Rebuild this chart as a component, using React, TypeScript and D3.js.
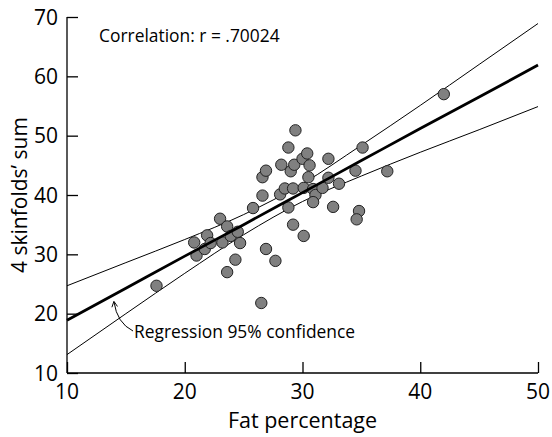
import { useEffect, useRef } from 'react';
import * as d3 from 'd3';

// fat % vs sum of 4 skinfolds, one value per subject
const fatPct = [
  17.6, 20.8, 21.0, 21.7, 21.9, 22.2, 23.0, 23.2, 23.6, 23.6, 23.9, 24.3, 24.5,
  24.7, 25.8, 26.5, 26.6, 26.6, 26.9, 26.9, 27.7, 28.2, 28.1, 28.5, 28.8, 29.4,
  28.8, 29.0, 29.3, 29.2, 29.2, 30.0, 30.1, 30.1, 30.4, 30.5, 30.6, 30.9, 31.1,
  30.9, 31.7, 32.2, 32.2, 32.6, 33.1, 34.5, 35.1, 34.8, 34.6, 37.2, 42.0,
];
const skinfoldSum = [
  24.7, 32.0, 29.8, 30.9, 33.2, 31.9, 36.0, 32.0, 27.0, 34.7, 33.1, 29.1, 33.8,
  31.9, 37.8, 21.8, 39.9, 43.0, 44.1, 30.9, 28.9, 45.1, 40.1, 41.1, 48.0, 50.9,
  37.9, 44.0, 45.1, 41.1, 35.0, 46.1, 33.1, 41.2, 47.0, 43.0, 45.0, 41.0, 40.0,
  38.8, 41.2, 46.1, 42.9, 38.0, 41.9, 44.1, 48.0, 37.3, 35.9, 44.0, 57.0,
];

// fitted line and its 95% band, read at a few x positions
const bandX = [10, 15, 20, 25, 30, 35, 40, 45, 50];
const regressionY = [18.9, 24.3, 29.7, 35.0, 40.4, 45.8, 51.2, 56.5, 61.9];
const upperBand = [24.7, 28.6, 32.5, 36.7, 41.9, 48.4, 55.1, 62.0, 68.9];
const lowerBand = [13.1, 20.0, 26.8, 33.3, 38.9, 43.2, 47.2, 51.0, 54.9];

const xTicks = [10, 20, 30, 40, 50];
const yTicks = [10, 20, 30, 40, 50, 60, 70];

const W = 552;
const H = 437;
const FONT = '"Open Sans", Lato, sans-serif';

export default function App() {
  const ref = useRef<SVGSVGElement>(null);

  useEffect(() => {
    document.body.style.margin = '0';
    const svg = d3.select(ref.current);
    svg.selectAll('*').remove();

    const x = d3.scaleLinear().domain([10, 50]).range([67, 538]);
    const y = d3.scaleLinear().domain([10, 70]).range([373, 17]);

    // axes, ticks point inward
    const xAxis = svg
      .append('g')
      .attr('transform', `translate(0,${y(10)})`)
      .call(d3.axisTop(x).tickValues(xTicks).tickSize(11).tickFormat(() => ''));
    xAxis.select('.domain').attr('d', `M${x(10)},0H${x(50)}`);
    const yAxis = svg
      .append('g')
      .attr('transform', `translate(${x(10)},0)`)
      .call(d3.axisRight(y).tickValues(yTicks).tickSize(11).tickFormat(() => ''));
    yAxis.select('.domain').attr('d', `M0,${y(10)}V${y(70)}`);
    svg.selectAll('.domain, .tick line').attr('stroke', '#000').attr('stroke-width', 1.3);

    svg
      .append('g')
      .selectAll('text')
      .data(xTicks)
      .join('text')
      .attr('x', (d) => x(d))
      .attr('y', 399)
      .attr('text-anchor', 'middle')
      .attr('font-family', FONT)
      .attr('font-size', 21)
      .text((d) => d);

    svg
      .append('g')
      .selectAll('text')
      .data(yTicks)
      .join('text')
      .attr('x', 58)
      .attr('y', (d) => y(d) + 7.5)
      .attr('text-anchor', 'end')
      .attr('font-family', FONT)
      .attr('font-size', 21)
      .text((d) => d);

    svg
      .append('text')
      .attr('x', (x(10) + x(50)) / 2)
      .attr('y', 428)
      .attr('text-anchor', 'middle')
      .attr('font-family', FONT)
      .attr('font-size', 21.5)
      .text('Fat percentage');

    svg
      .append('text')
      .attr('transform', `translate(27,${(y(10) + y(70)) / 2}) rotate(-90)`)
      .attr('text-anchor', 'middle')
      .attr('font-family', FONT)
      .attr('font-size', 21)
      .text('4 skinfolds\u2019 sum');

    const line = d3
      .line<number>()
      .x((_, i) => x(bandX[i]))
      .curve(d3.curveMonotoneX);

    svg
      .append('path')
      .attr('d', line.y((d) => y(d))(upperBand))
      .attr('fill', 'none')
      .attr('stroke', '#000')
      .attr('stroke-width', 1);
    svg
      .append('path')
      .attr('d', line.y((d) => y(d))(lowerBand))
      .attr('fill', 'none')
      .attr('stroke', '#000')
      .attr('stroke-width', 1);

    svg
      .append('g')
      .selectAll('circle')
      .data(fatPct)
      .join('circle')
      .attr('cx', (d) => x(d))
      .attr('cy', (_, i) => y(skinfoldSum[i]))
      .attr('r', 5.7)
      .attr('fill', '#808080')
      .attr('stroke', '#222')
      .attr('stroke-width', 1);

    svg
      .append('path')
      .attr('d', line.y((d) => y(d))(regressionY))
      .attr('fill', 'none')
      .attr('stroke', '#000')
      .attr('stroke-width', 2.8);

    svg
      .append('text')
      .attr('x', 99)
      .attr('y', 42)
      .attr('font-family', FONT)
      .attr('font-size', 17.4)
      .text('Correlation: r = .70024');

    svg
      .append('defs')
      .append('marker')
      .attr('id', 'arrow')
      .attr('viewBox', '0 0 10 10')
      .attr('refX', 8)
      .attr('refY', 5)
      .attr('markerWidth', 7)
      .attr('markerHeight', 7)
      .attr('orient', 'auto')
      .append('path')
      .attr('d', 'M1,1L9,5L1,9')
      .attr('fill', 'none')
      .attr('stroke', '#000')
      .attr('stroke-width', 1.3);

    svg
      .append('path')
      .attr('d', 'M133,331 Q117,323 114,302')
      .attr('fill', 'none')
      .attr('stroke', '#000')
      .attr('stroke-width', 1)
      .attr('marker-end', 'url(#arrow)');

    svg
      .append('text')
      .attr('x', 134)
      .attr('y', 338)
      .attr('font-family', FONT)
      .attr('font-size', 17.4)
      .text('Regression 95% confidence');
  }, []);

  return (
    <svg
      ref={ref}
      width={W}
      height={H}
      style={{ position: 'absolute', left: 0, top: 0, background: '#fff' }}
    />
  );
}
